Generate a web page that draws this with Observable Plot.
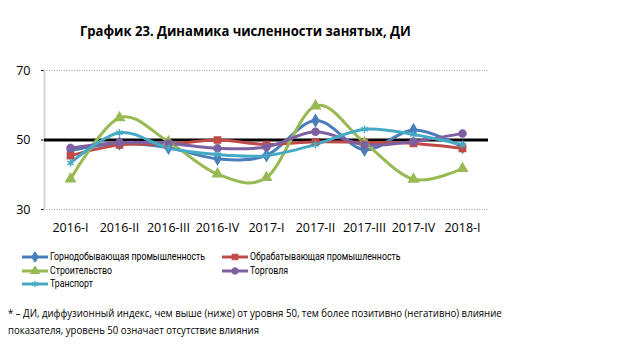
<!DOCTYPE html>
<html><head><meta charset="utf-8">
<script src="https://cdn.jsdelivr.net/npm/d3@7"></script>
<script src="https://cdn.jsdelivr.net/npm/@observablehq/plot@0.6"></script>
<style>
body{margin:0;background:#fff;font-family:"Open Sans",sans-serif;color:#000;}
#wrap{position:relative;width:625px;height:358px;overflow:hidden;background:#fff;}
#title{position:absolute;left:80px;top:21px;font-weight:bold;font-size:14.5px;white-space:nowrap;transform:scaleX(0.9);transform-origin:left center;}
#chart{position:absolute;left:0;top:50px;}
.li{position:absolute;white-space:nowrap;display:flex;align-items:center;font-family:Roboto,sans-serif;font-size:11px;line-height:11px;height:11px;}
.li svg{margin-right:2px;}
.li span{display:inline-block;line-height:11px;height:11px;transform:scaleX(0.795);transform-origin:left center;}
#note{position:absolute;left:8px;top:304px;font-size:11.5px;line-height:17px;white-space:nowrap;transform:scaleX(0.835);transform-origin:left top;}
</style>
</head>
<body>
<div id="wrap">
  <div id="title">График 23. Динамика численности занятых, ДИ</div>
  <div id="chart"></div>
  <div id="legend"></div>
  <div id="note">* – ДИ, диффузионный индекс, чем выше (ниже) от уровня 50, тем более позитивно (негативно) влияние<br>показателя, уровень 50 означает отсутствие влияния</div>
</div>
<script>
const categories = ["2016-I","2016-II","2016-III","2016-IV","2017-I","2017-II","2017-III","2017-IV","2018-I"];
const seriesNames = ["Горнодобывающая промышленность","Обрабатывающая промышленность","Строительство","Торговля","Транспорт"];
const mining        = [47.0, 49.0, 47.8, 44.6, 45.6, 55.6, 47.2, 52.9, 48.0];
const manufacturing = [45.5, 48.6, 48.8, 50.0, 48.7, 49.5, 49.3, 49.0, 47.6];
const construction  = [38.8, 56.4, 49.5, 40.2, 39.2, 59.8, 49.2, 38.7, 41.8];
const trade         = [47.7, 49.3, 49.0, 47.6, 48.0, 52.4, 48.6, 49.6, 51.9];
const transport     = [43.4, 52.1, 47.7, 45.8, 45.5, 48.7, 53.1, 51.6, 48.6];
const neutralLevel = [50];
const yTicks = [30, 50, 70];

const colors = ["#4A7EBB", "#BE4B48", "#98B954", "#7D60A0", "#46AAC5"];
const symbols = ["diamond", "square", "triangle", "circle", "asterisk"];
const allValues = [mining, manufacturing, construction, trade, transport];

const series = seriesNames.map((name, i) => ({
  name, color: colors[i], symbol: symbols[i],
  data: categories.map((c, j) => ({cat: c, v: allValues[i][j]}))
}));

const marks = [
  Plot.ruleY([30, 70], {stroke: "#9a9a9a", strokeWidth: 1, strokeDasharray: "1,1.5"}),
  Plot.frame({anchor: "left", stroke: "#d4d4d4", strokeWidth: 2}),
  Plot.ruleY(neutralLevel, {stroke: "#000", strokeWidth: 3})
];
for (const s of series) {
  marks.push(Plot.line(s.data, {x: "cat", y: "v", stroke: s.color, strokeWidth: 3, curve: "cardinal"}));
}
for (const s of series) {
  if (s.symbol === "asterisk") {
    marks.push(Plot.dot(s.data, {x: "cat", y: "v", symbol: "asterisk", stroke: s.color, strokeWidth: 1.5, r: 3.5}));
  } else {
    marks.push(Plot.dot(s.data, {x: "cat", y: "v", symbol: s.symbol, fill: s.color, stroke: s.color, r: 3.5}));
  }
}

const chart = Plot.plot({
  width: 625, height: 200,
  marginTop: 20, marginBottom: 41, marginLeft: 44, marginRight: 137,
  x: {type: "point", domain: categories, padding: 0.5, label: null, tickSize: 0, tickPadding: 14},
  y: {domain: [30, 70], ticks: yTicks, label: null, tickSize: 3, tickPadding: 11},
  style: {fontFamily: "Open Sans", fontSize: "12.5px", color: "#000", background: "transparent"},
  marks
});
document.getElementById("chart").appendChild(chart);

// legend
const legendPos = [[22, 251], [222, 251], [22, 265], [222, 265], [22, 278]];
const legend = document.getElementById("legend");
const ns = "http://www.w3.org/2000/svg";
const d3sym = {diamond: d3.symbolDiamond, square: d3.symbolSquare, triangle: d3.symbolTriangle, circle: d3.symbolCircle, asterisk: d3.symbolAsterisk};
series.forEach((s, i) => {
  const div = document.createElement("div");
  div.className = "li";
  div.style.left = legendPos[i][0] + "px";
  div.style.top = legendPos[i][1] + "px";
  const svg = document.createElementNS(ns, "svg");
  svg.setAttribute("width", 26); svg.setAttribute("height", 10);
  const ln = document.createElementNS(ns, "line");
  ln.setAttribute("x1", 0); ln.setAttribute("x2", 26); ln.setAttribute("y1", 5); ln.setAttribute("y2", 5);
  ln.setAttribute("stroke", s.color); ln.setAttribute("stroke-width", 3);
  svg.appendChild(ln);
  const p = document.createElementNS(ns, "path");
  p.setAttribute("d", d3.symbol(d3sym[s.symbol], 30)());
  p.setAttribute("transform", "translate(13,5)");
  p.setAttribute("fill", s.symbol === "asterisk" ? "none" : s.color);
  p.setAttribute("stroke", s.color); p.setAttribute("stroke-width", 1.2);
  svg.appendChild(p);
  div.appendChild(svg);
  const t = document.createElement("span");
  t.textContent = s.name;
  div.appendChild(t);
  legend.appendChild(div);
});
</script>
</body></html>
